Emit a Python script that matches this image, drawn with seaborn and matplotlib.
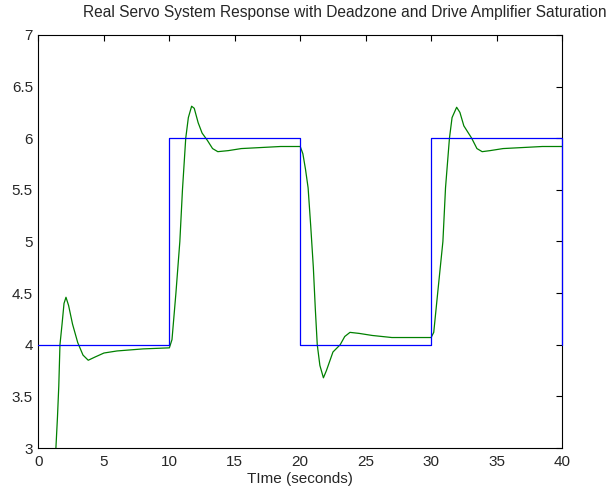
import numpy as np
import pandas as pd
import seaborn as sns
import matplotlib
matplotlib.use("Agg")
import matplotlib.pyplot as plt

# reference (commanded) position - step signal
ref_t = [0, 10, 20, 30, 40]
ref_pos = [4, 6, 4, 6, 4]

resp_t = [1.25, 1.33, 1.45, 1.55, 1.64, 1.8, 1.95, 2.1, 2.3, 2.6, 3.0, 3.4, 3.8, 4.3,
          5.0, 6.0, 7.0, 8.0, 9.0, 10.0, 10.2, 10.5, 10.8, 11.0, 11.25, 11.45, 11.7,
          11.9, 12.2, 12.5, 12.9, 13.3, 13.7, 14.5, 15.5, 17.0, 18.5, 20.0, 20.2,
          20.4, 20.6, 20.8, 21.0, 21.15, 21.3, 21.5, 21.77, 22.0, 22.5, 23.05, 23.4,
          23.8, 24.5, 25.5, 27.0, 28.5, 30.0, 30.2, 30.5, 30.9, 31.1, 31.4, 31.6,
          31.95, 32.2, 32.5, 33.1, 33.5, 33.9, 34.5, 35.5, 37.0, 38.5, 40.0]
resp_pos = [2.9, 3.0, 3.3, 3.6, 4.0, 4.2, 4.4, 4.46, 4.38, 4.2, 4.02, 3.9, 3.85, 3.88,
            3.92, 3.94, 3.95, 3.96, 3.965, 3.97, 4.05, 4.5, 5.0, 5.5, 6.0, 6.2, 6.31,
            6.29, 6.15, 6.05, 5.98, 5.9, 5.87, 5.88, 5.9, 5.91, 5.92, 5.92, 5.85,
            5.7, 5.52, 5.15, 4.75, 4.35, 4.0, 3.8, 3.68, 3.75, 3.93, 4.0, 4.08,
            4.12, 4.11, 4.09, 4.07, 4.07, 4.07, 4.12, 4.5, 5.0, 5.52, 6.0, 6.2,
            6.3, 6.25, 6.12, 6.0, 5.9, 5.87, 5.88, 5.9, 5.91, 5.92, 5.92]

sns.set_style("white")
plt.rcParams['font.family'] = ['Liberation Sans', 'DejaVu Sans']
plt.rcParams['xtick.direction'] = 'in'
plt.rcParams['ytick.direction'] = 'in'

fig = plt.figure(figsize=(6.13, 4.92), dpi=100)
ax = fig.add_axes([0.0628, 0.0894, 0.854, 0.8395])

sns.lineplot(x=ref_t, y=ref_pos, ax=ax, color=(0, 0, 1), linewidth=0.9,
             drawstyle='steps-post', estimator=None, clip_on=False, zorder=5)
sns.lineplot(x=resp_t, y=resp_pos, ax=ax, color=(0, 0.5, 0), linewidth=0.9,
             sort=False, estimator=None)

ax.set_xlim(0, 40)
ax.set_ylim(3, 7)
ax.set_xticks(np.arange(0, 41, 5))
ax.set_yticks(np.arange(3, 7.01, 0.5))
ax.set_yticklabels(['3', '3.5', '4', '4.5', '5', '5.5', '6', '6.5', '7'])
ax.tick_params(axis='both', which='both', labelsize=11, length=4, width=0.8,
               color='black', top=True, right=True)
ax.tick_params(axis='x', pad=5)
ax.tick_params(axis='y', pad=4)
for s in ax.spines.values():
    s.set_color('black')
    s.set_linewidth(0.8)
ax.set_xlabel('TIme (seconds)', fontsize=11, labelpad=2)
ax.set_ylabel('')

fig.text(345 / 613, 1 - 13 / 492, 'Real Servo System Response with Deadzone and Drive Amplifier Saturation',
         ha='center', va='center', fontsize=11.2)

fig.savefig('out.png', dpi=100)
